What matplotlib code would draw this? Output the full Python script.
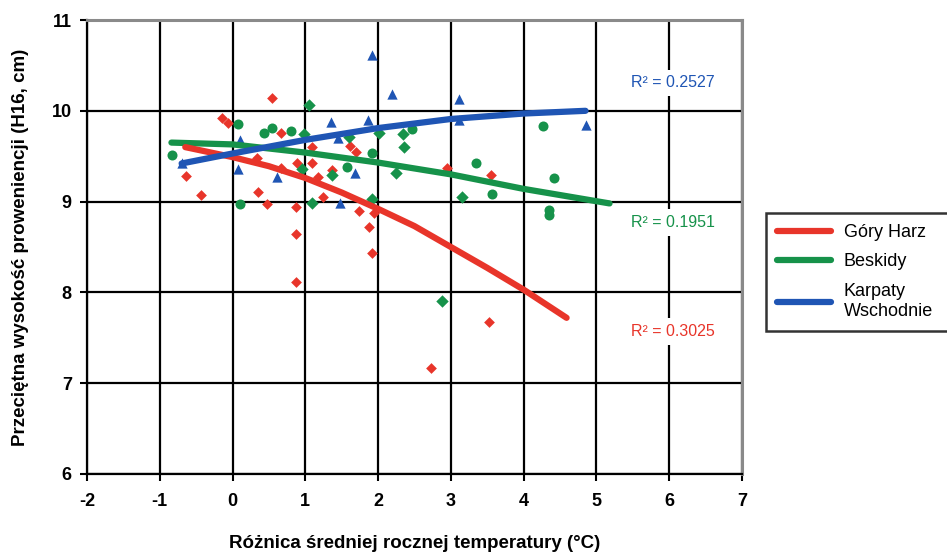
import matplotlib
matplotlib.use("Agg")
import matplotlib.pyplot as plt
from matplotlib.lines import Line2D

plt.rcParams['font.family'] = ['Liberation Sans', 'DejaVu Sans']
plt.rcParams['axes.unicode_minus'] = False

# Góry Harz provenances
harz_x = [0.54, -0.14, -0.06, -0.64, -0.44, 0.35, 0.47, 0.87, 0.87, 0.87, 0.66,
          0.67, 1.09, 1.09, 0.88, 1.18, 1.24, 1.36, 1.62, 1.69, 1.74, 1.87,
          1.91, 1.94, 2.95, 3.55, 3.53, 2.73, 0.33]
harz_y = [10.14, 9.92, 9.87, 9.28, 9.07, 9.11, 8.97, 8.94, 8.64, 8.12, 9.76,
          9.37, 9.60, 9.43, 9.42, 9.27, 9.05, 9.35, 9.61, 9.55, 8.90, 8.72,
          8.43, 8.87, 9.37, 9.29, 7.67, 7.17, 9.48]

# Beskidy provenances (two marker groups)
besk_circ_x = [-0.83, 0.07, 0.10, 0.43, 0.54, 0.80, 1.91, 1.57, 2.47, 4.26,
               3.35, 4.42, 3.57, 4.35, 4.35]
besk_circ_y = [9.51, 9.85, 8.97, 9.76, 9.81, 9.78, 9.54, 9.38, 9.80, 9.83,
               9.42, 9.26, 9.08, 8.91, 8.85]
besk_diam_x = [1.05, 1.09, 1.36, 0.98, 1.60, 2.01, 2.25, 2.34, 2.36, 1.91,
               3.15, 2.88, 0.96]
besk_diam_y = [10.06, 8.99, 9.29, 9.75, 9.71, 9.76, 9.31, 9.75, 9.60, 9.03,
               9.05, 7.90, 9.36]

# Karpaty Wschodnie provenances
karp_x = [-0.70, 0.10, 0.08, 0.61, 1.35, 1.45, 1.86, 1.91, 2.19, 1.68,
          1.48, 3.11, 3.11, 4.85]
karp_y = [9.43, 9.68, 9.36, 9.27, 9.88, 9.70, 9.90, 10.62, 10.19, 9.31,
          8.99, 10.13, 9.90, 9.84]

# Polynomial trend lines, sampled along x
harz_trend_x = [-0.65, 0.0, 0.5, 1.0, 1.5, 2.0, 2.5, 3.0, 3.5, 4.0, 4.59]
harz_trend_y = [9.60, 9.49, 9.39, 9.26, 9.10, 8.92, 8.73, 8.50, 8.27, 8.03, 7.72]
besk_trend_x = [-0.84, 0.0, 1.0, 2.0, 3.0, 4.0, 5.18]
besk_trend_y = [9.65, 9.63, 9.54, 9.43, 9.30, 9.14, 8.98]
karp_trend_x = [-0.70, 0.0, 1.0, 2.0, 3.0, 4.0, 4.85]
karp_trend_y = [9.42, 9.53, 9.68, 9.81, 9.91, 9.97, 10.00]

series_names = ["Góry Harz", "Beskidy", "Karpaty\nWschodnie"]
r2_labels = ["R² = 0.3025", "R² = 0.1951", "R² = 0.2527"]
r2_y = [7.57, 8.77, 10.31]

xticks = [-2, -1, 0, 1, 2, 3, 4, 5, 6, 7]
yticks = [6, 7, 8, 9, 10, 11]

RED = "#e8352a"
GREEN = "#16924a"
BLUE = "#1f55b4"

fig = plt.figure(figsize=(9.47, 5.56), dpi=100)
ax = fig.add_axes([0.0919, 0.1475, 0.6916, 0.8165])
ax.set_xlim(-2, 7)
ax.set_ylim(6, 11)
ax.set_xticks(xticks)
ax.set_yticks(yticks)
ax.grid(True, color="black", linewidth=1.6)
ax.set_axisbelow(True)

for side in ["top", "right"]:
    ax.spines[side].set_color("#8a8a8a")
    ax.spines[side].set_linewidth(2.2)
for side in ["left", "bottom"]:
    ax.spines[side].set_color("black")
    ax.spines[side].set_linewidth(1.6)

ax.tick_params(axis="both", direction="out", length=5, width=1.5,
               labelsize=13, colors="black")
ax.tick_params(axis="x", pad=9)
ax.tick_params(axis="y", pad=6)
for lab in ax.get_xticklabels() + ax.get_yticklabels():
    lab.set_fontweight("bold")

ax.scatter(harz_x, harz_y, marker="D", s=30, color=RED, zorder=3, linewidths=0)
ax.scatter(besk_circ_x, besk_circ_y, marker="o", s=52, color=GREEN, zorder=3, linewidths=0)
ax.scatter(besk_diam_x, besk_diam_y, marker="D", s=40, color=GREEN, zorder=3, linewidths=0)
ax.scatter(karp_x, karp_y, marker="^", s=55, color=BLUE, zorder=3, linewidths=0)

ax.plot(besk_trend_x, besk_trend_y, color=GREEN, lw=4.5, solid_capstyle="round", zorder=4)
ax.plot(harz_trend_x, harz_trend_y, color=RED, lw=4.5, solid_capstyle="round", zorder=4)
ax.plot(karp_trend_x, karp_trend_y, color=BLUE, lw=4.5, solid_capstyle="round", zorder=4)

for txt, yy, col in zip(r2_labels, r2_y, [RED, GREEN, BLUE]):
    ax.text(6.05, yy, txt, color=col, fontsize=11.5, ha="center", va="center",
            bbox=dict(facecolor="white", edgecolor="none", pad=4), zorder=5)

ax.set_xlabel("Różnica średniej rocznej temperatury (°C)", fontsize=13.5,
              fontweight="bold", labelpad=18)
ax.set_ylabel("Przeciętna wysokość proweniencji (H16, cm)", fontsize=13.5,
              fontweight="bold", labelpad=16)

handles = [Line2D([0], [0], color=c, lw=4.5, solid_capstyle="round")
           for c in [RED, GREEN, BLUE]]
leg = fig.legend(handles, series_names, loc="upper left", mode="expand",
                 bbox_to_anchor=(766 / 947, 1 - 335 / 556, 190 / 947, 122 / 556),
                 fontsize=13, frameon=True, fancybox=False, handlelength=3.0,
                 handletextpad=0.7, borderpad=0.6, labelspacing=0.7,
                 borderaxespad=0)
leg.get_frame().set_edgecolor("black")
leg.get_frame().set_linewidth(1.8)

fig.savefig("out.png", dpi=100)
